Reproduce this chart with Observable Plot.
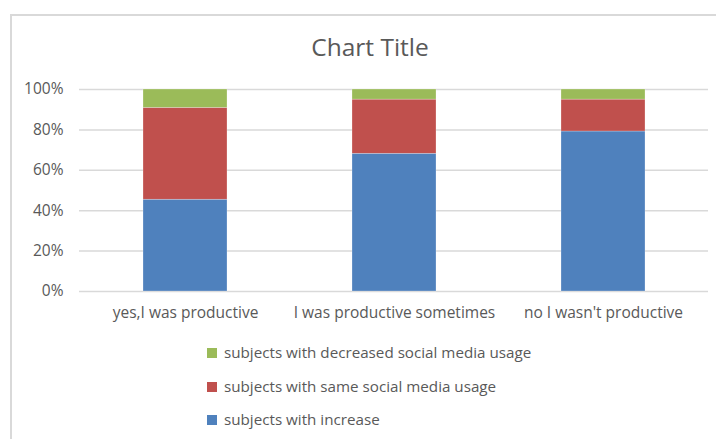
<!DOCTYPE html>
<html>
<head>
<meta charset="utf-8">
<script src="https://cdn.jsdelivr.net/npm/d3@7"></script>
<script src="https://cdn.jsdelivr.net/npm/@observablehq/plot@0.6"></script>
<style>
  html, body { margin: 0; padding: 0; background: #fff; }
  body { width: 716px; height: 439px; position: relative; overflow: hidden; font-family: "Open Sans", sans-serif; color: #595959; }
  #frame { position: absolute; left: 10px; top: 14px; width: 720px; height: 440px; border-left: 2px solid #d9d9d9; border-top: 2px solid #d9d9d9; box-sizing: border-box; }
  #title { position: absolute; left: 0; width: 740px; top: 30px; text-align: center; font-size: 24.5px; color: #595959; }
  #chart { position: absolute; left: 0; top: 70px; }
  #legend { position: absolute; left: 207px; top: 342px; font-size: 15.2px; color: #595959; }
  .item { height: 33.5px; display: flex; align-items: flex-start; }
  .sw { width: 10px; height: 10px; margin-right: 7px; margin-top: 6px; }
</style>
</head>
<body>
<div id="frame"></div>
<div id="title">Chart Title</div>
<div id="chart"></div>
<div id="legend"></div>
<script>
const categories = ["yes,I was productive", "I was productive sometimes", "no I wasn't productive"];
const seriesNames = ["subjects with increase", "subjects with same social media usage", "subjects with decreased social media usage"];
const increase = [45.45, 68.2, 79.2];
const same = [45.45, 26.8, 15.8];
const decreased = [9.1, 5.0, 5.0];
const colors = ["#4F81BD", "#C0504D", "#9BBB59"];
const yTicks = [0, 20, 40, 60, 80, 100];

const seriesValues = [increase, same, decreased];
const table = [];
seriesValues.forEach((vals, si) => {
  categories.forEach((c, ci) => table.push({category: c, series: seriesNames[si], value: vals[ci]}));
});

const plot = Plot.plot({
  width: 716,
  height: 260,
  marginLeft: 79,
  marginRight: 8,
  marginTop: 19,
  marginBottom: 39,
  style: {fontFamily: "Open Sans, sans-serif", fontSize: "15.5px", color: "#595959", background: "transparent"},
  x: {domain: categories, paddingInner: 0.6, paddingOuter: 0.3, label: null},
  y: {domain: [0, 100], label: null},
  color: {domain: seriesNames, range: colors},
  marks: [
    Plot.ruleY(yTicks, {stroke: "#d9d9d9", strokeWidth: 1.5}),
    Plot.barY(table, {x: "category", y: "value", fill: "series", stroke: "#ffffff", strokeOpacity: 0.5, strokeWidth: 0.5}),
    Plot.axisY({ticks: yTicks, tickFormat: d => d + "%", tickSize: 0, tickPadding: 16, label: null, fill: "#595959"}),
    Plot.axisX({tickSize: 0, tickPadding: 15, label: null, fill: "#595959"})
  ]
});
document.getElementById("chart").appendChild(plot);

const legend = document.getElementById("legend");
[2, 1, 0].forEach(i => {
  const row = document.createElement("div");
  row.className = "item";
  const sw = document.createElement("span");
  sw.className = "sw";
  sw.style.background = colors[i];
  const t = document.createElement("span");
  t.textContent = seriesNames[i];
  row.appendChild(sw);
  row.appendChild(t);
  legend.appendChild(row);
});
</script>
</body>
</html>
